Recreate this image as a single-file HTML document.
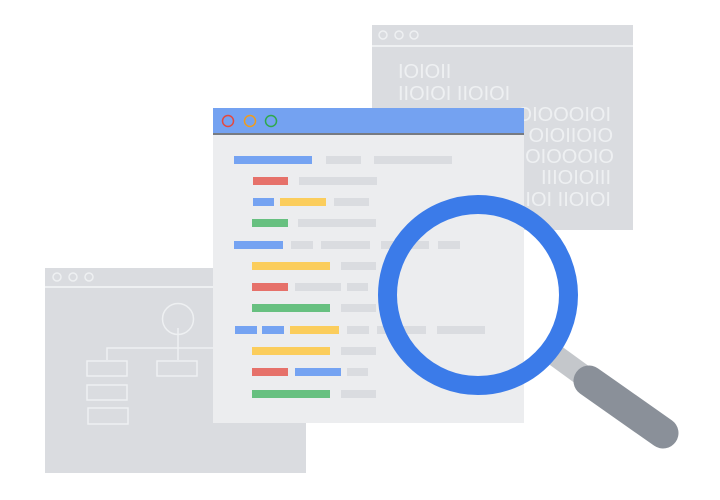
<!DOCTYPE html>
<html><head><meta charset="utf-8"><style>
html,body{margin:0;padding:0;background:#fff;width:720px;height:500px;overflow:hidden}
</style></head><body>
<svg width="720" height="500" viewBox="0 0 720 500" xmlns="http://www.w3.org/2000/svg">
<!-- back right window -->
<rect x="372" y="25" width="261" height="205" fill="#dadce0"/>
<line x1="372" y1="46" x2="633" y2="46" stroke="#eef0f2" stroke-width="2"/>
<g fill="none" stroke="#eef0f2" stroke-width="1.5">
<circle cx="383" cy="35" r="4"/><circle cx="399" cy="35" r="4"/><circle cx="414" cy="35" r="4"/>
</g>
<g font-family="Liberation Sans, sans-serif" font-size="20" fill="#eef0f2">
<text x="398" y="78">IOIOII</text>
<text x="398" y="100">IIOIOI IIOIOI</text>
<text x="611" y="121" text-anchor="end">OIOOOIOI</text>
<text x="613" y="142" text-anchor="end">OIOIIOIO</text>
<text x="614" y="163" text-anchor="end">OIOOOIO</text>
<text x="611" y="184" text-anchor="end">IIIOIOIII</text>
<text x="611" y="206" text-anchor="end">IOI IIOIOI</text>
</g>
<!-- back left window -->
<rect x="45" y="268" width="261" height="205" fill="#dadce0"/>
<line x1="45" y1="287" x2="306" y2="287" stroke="#eef0f2" stroke-width="2"/>
<g fill="none" stroke="#eef0f2" stroke-width="1.5">
<circle cx="57" cy="277" r="4"/><circle cx="73" cy="277" r="4"/><circle cx="89" cy="277" r="4"/>
<circle cx="178" cy="319" r="15.5"/>
<path d="M178 328 V348 M107 360 V348 H213 M178 348 V360"/>
<rect x="87" y="361" width="40" height="15"/>
<rect x="157" y="361" width="40" height="15"/>
<rect x="87" y="385" width="40" height="15"/>
<rect x="88" y="408" width="40" height="16"/>
</g>
<!-- main window -->
<rect x="213" y="108" width="311" height="315" fill="#ecedef"/>
<rect x="213" y="108" width="311" height="26" fill="#74a2f1"/>
<rect x="213" y="133" width="311" height="2" fill="#777b82"/>
<circle cx="228" cy="121" r="5.5" fill="none" stroke="#e5493d" stroke-width="1.5"/>
<circle cx="250" cy="121" r="5.5" fill="none" stroke="#f09c1b" stroke-width="1.5"/>
<circle cx="271" cy="121" r="5.5" fill="none" stroke="#2fa94b" stroke-width="1.5"/>
<g>
<!-- colors: B #75a3f2 R #e6716a Y #fbcd5c G #67c080 g #dadce0 -->
<rect x="234" y="156" width="78" height="8" fill="#75a3f2"/><rect x="326" y="156" width="35" height="8" fill="#dadce0"/><rect x="374" y="156" width="78" height="8" fill="#dadce0"/>
<rect x="253" y="177" width="35" height="8" fill="#e6716a"/><rect x="299" y="177" width="78" height="8" fill="#dadce0"/>
<rect x="253" y="198" width="21" height="8" fill="#75a3f2"/><rect x="280" y="198" width="46" height="8" fill="#fbcd5c"/><rect x="334" y="198" width="35" height="8" fill="#dadce0"/>
<rect x="252" y="219" width="36" height="8" fill="#67c080"/><rect x="298" y="219" width="78" height="8" fill="#dadce0"/>
<rect x="234" y="241" width="49" height="8" fill="#75a3f2"/><rect x="291" y="241" width="22" height="8" fill="#dadce0"/><rect x="321" y="241" width="49" height="8" fill="#dadce0"/><rect x="381" y="241" width="48" height="8" fill="#dadce0"/><rect x="438" y="241" width="22" height="8" fill="#dadce0"/>
<rect x="252" y="262" width="78" height="8" fill="#fbcd5c"/><rect x="341" y="262" width="35" height="8" fill="#dadce0"/>
<rect x="252" y="283" width="36" height="8" fill="#e6716a"/><rect x="295" y="283" width="46" height="8" fill="#dadce0"/><rect x="347" y="283" width="21" height="8" fill="#dadce0"/>
<rect x="252" y="304" width="78" height="8" fill="#67c080"/><rect x="341" y="304" width="35" height="8" fill="#dadce0"/>
<rect x="235" y="326" width="22" height="8" fill="#75a3f2"/><rect x="262" y="326" width="22" height="8" fill="#75a3f2"/><rect x="290" y="326" width="49" height="8" fill="#fbcd5c"/><rect x="347" y="326" width="22" height="8" fill="#dadce0"/><rect x="377" y="326" width="49" height="8" fill="#dadce0"/><rect x="437" y="326" width="48" height="8" fill="#dadce0"/>
<rect x="252" y="347" width="78" height="8" fill="#fbcd5c"/><rect x="341" y="347" width="35" height="8" fill="#dadce0"/>
<rect x="252" y="368" width="36" height="8" fill="#e6716a"/><rect x="295" y="368" width="46" height="8" fill="#75a3f2"/><rect x="347" y="368" width="21" height="8" fill="#dadce0"/>
<rect x="252" y="390" width="78" height="8" fill="#67c080"/><rect x="341" y="390" width="35" height="8" fill="#dadce0"/>
</g>
<!-- magnifier -->
<line x1="548" y1="350" x2="592" y2="382" stroke="#c4c7cb" stroke-width="22"/>
<line x1="589" y1="381" x2="663" y2="433" stroke="#8a9099" stroke-width="31" stroke-linecap="round"/>
<circle cx="478" cy="295" r="90.5" fill="none" stroke="#3b7be9" stroke-width="19"/>
</svg>
</body></html>
